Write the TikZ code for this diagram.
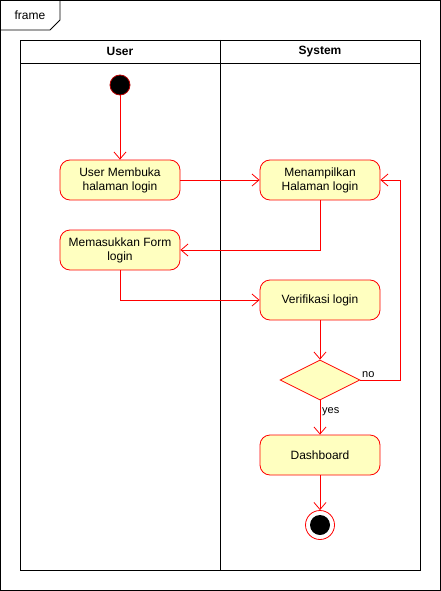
\documentclass[tikz,border=0pt]{standalone}
\usepackage{fontspec}
\setmainfont{Liberation Sans}
\usetikzlibrary{arrows.meta,shapes.geometric}
\definecolor{umlred}{HTML}{FF0000}
\definecolor{umlfill}{HTML}{FFFFC0}
\definecolor{darkred}{HTML}{B20000}
\begin{document}
\begin{tikzpicture}[x=1pt,y=-1pt,
  every node/.style={font=\fontsize{12}{14}\selectfont, inner sep=0pt},
  actbox/.style={draw=umlred, fill=umlfill, rounded corners=10pt, minimum width=120pt, minimum height=40pt, align=center, line width=0.8pt},
  decbox/.style={diamond, draw=umlred, fill=umlfill, minimum width=80pt, minimum height=40pt, aspect=2, line width=0.8pt},
  flow/.style={draw=umlred, line width=0.8pt, -{Straight Barb[length=7pt,width=12pt,line width=0.8pt]}},
  lbl/.style={font=\fontsize{11}{13}\selectfont}
]
\useasboundingbox (0,0) rectangle (441,591);
% frame
\draw[line width=0.8pt] (0.5,0.5) rectangle (440.5,590.5);
\draw[line width=0.8pt] (0.5,30) -- (50,30) -- (60,20) -- (60,0.5);
\node (framelbl) at (30,15) {frame};
% pool
\draw[line width=0.8pt] (20,40) rectangle (420,570);
\draw[line width=0.8pt] (20,63) -- (420,63);
\draw[line width=0.8pt] (220,40) -- (220,570);
\node[font=\bfseries\fontsize{12}{14}\selectfont] (laneU) at (120,51.5) {User};
\node[font=\bfseries\fontsize{12}{14}\selectfont] (laneS) at (320,51.5) {System};
% nodes
\node[circle, draw=darkred, fill=black, minimum size=20pt, line width=0.8pt] (init) at (120,85) {};
\node[actbox] (a1) at (120,180) {User Membuka\\halaman login};
\node[actbox] (a2) at (320,180) {Menampilkan\\Halaman login};
\node[actbox] (a3) at (120,250) {Memasukkan Form\\login};
\node[actbox] (a4) at (320,300) {Verifikasi login};
\node[decbox] (d) at (320,380) {};
\node[actbox] (a5) at (320,455) {Dashboard};
\node[circle, draw=umlred, fill=white, minimum size=29pt, line width=0.8pt] (fin) at (320,525) {};
\node[circle, fill=black, minimum size=20pt] (finin) at (320,525) {};
% connectors
\draw[flow] (init) -- (a1);
\draw[flow] (a1) -- (a2);
\draw[flow] (a2.south) |- (a3.east);
\draw[flow] (a3.south) |- (a4.west);
\draw[flow] (a4) -- (d);
\coordinate (nocorner) at (400,380);
\draw[flow] (d.east) -- (nocorner) |- (a2.east);
\node[lbl, anchor=south west] (nolbl) at (362,378) {no};
\draw[flow] (d.south) -- (a5.north);
\node[lbl, anchor=west] (yeslbl) at (322,412) {yes};
\draw[flow] (a5) -- (fin);
\end{tikzpicture}
\end{document}
